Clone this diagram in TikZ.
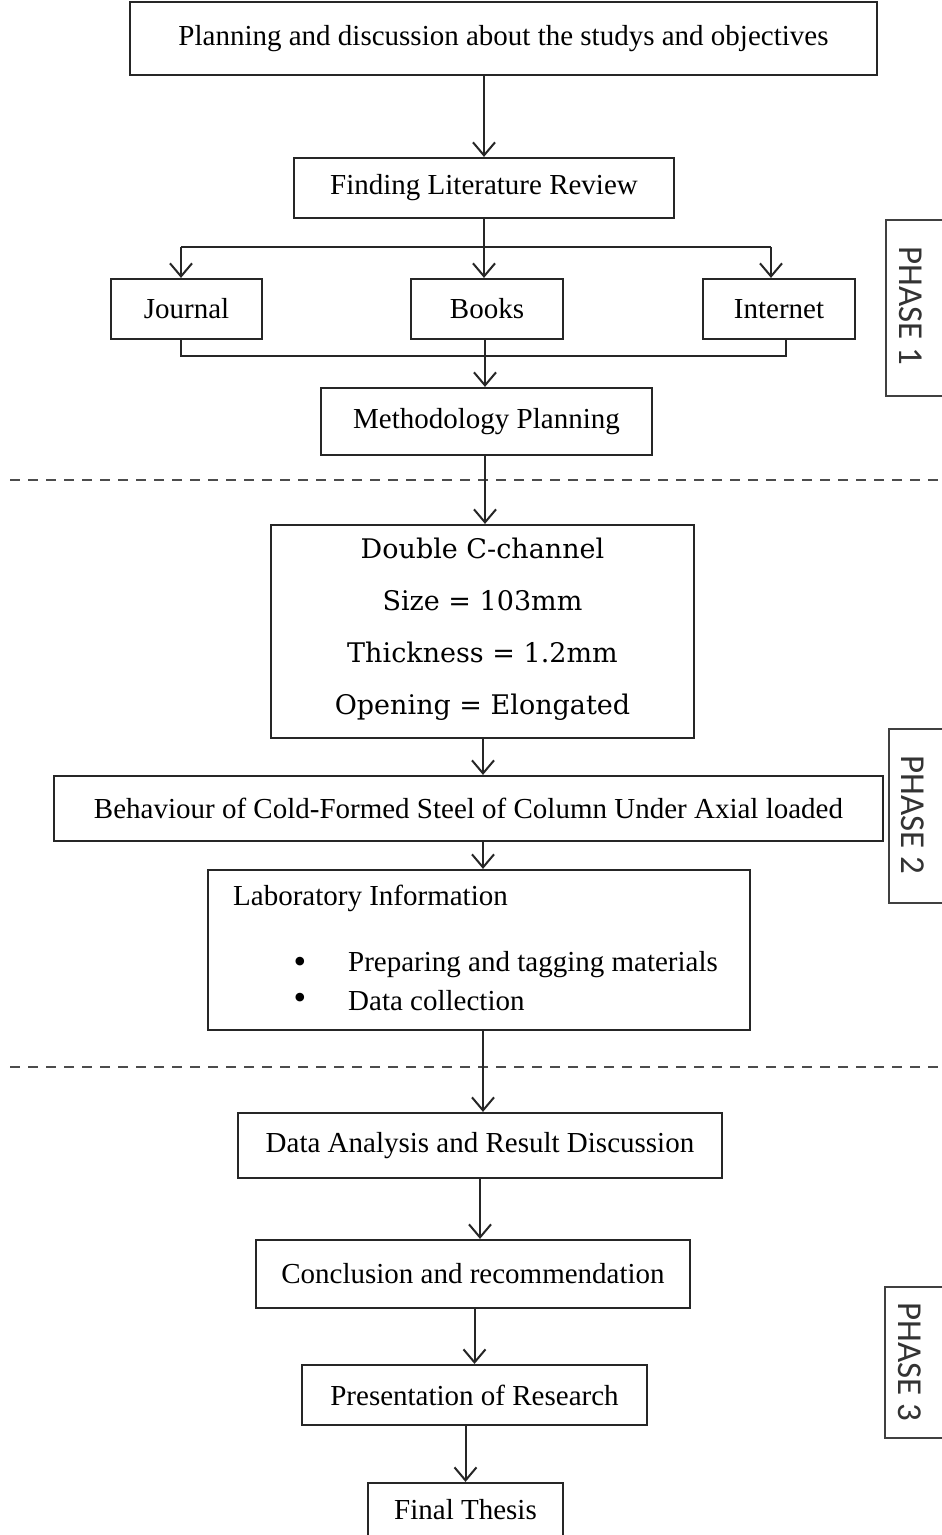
\documentclass[tikz,border=0pt]{standalone}
\usepackage{fontspec}
\setmainfont{Liberation Serif}
\newfontfamily\cfont{DejaVu Serif}
\newfontfamily\pfont{Carlito}
\usetikzlibrary{arrows.meta}
\begin{document}
\begin{tikzpicture}[x=1pt,y=-1pt,
  box/.style={draw=black!85,line width=2.2pt,inner sep=0pt,font=\fontsize{29}{34}\selectfont,text=black},
  arr/.style={draw=black!85,line width=2pt,-{Straight Barb[length=13pt,width=22pt,line width=2pt]}},
  ln/.style={draw=black!85,line width=2pt},
  dline/.style={draw=black!70,line width=2pt,dash pattern=on 10pt off 8pt},
  phasebox/.style={draw=black!75,line width=2pt,inner sep=0pt},
  phasetext/.style={font=\pfont\fontsize{35}{40}\selectfont,text=black!80,rotate=-90,inner sep=0pt},
  plain/.style={font=\fontsize{29}{34}\selectfont,text=black,inner sep=0pt}]
\useasboundingbox (0,0) rectangle (942,1535);
\clip (0,0) rectangle (942,1535);
\fill[white] (0,0) rectangle (942,1535);

% phase boxes
\node[phasebox,minimum width=100pt,minimum height=176pt] (p1) at (936,308) {};
\node[phasetext] (p1t) at (911,306) {PHASE 1};
\node[phasebox,minimum width=100pt,minimum height=174pt] (p2) at (939,816) {};
\node[phasetext] (p2t) at (913,815) {PHASE 2};
\node[phasebox,minimum width=100pt,minimum height=151pt] (p3) at (935,1362.5) {};
\node[phasetext] (p3t) at (910,1362) {PHASE 3};

% dashed separators
\coordinate (d1l) at (10,480);
\coordinate (d1r) at (942,480);
\coordinate (d2l) at (10,1067);
\coordinate (d2r) at (942,1067);
\draw[dline] (d1l) -- (d1r);
\draw[dline] (d2l) -- (d2r);

% boxes
\node[box,minimum width=747pt,minimum height=73pt] (plan) at (503.5,38.5) {Planning and discussion about the studys and objectives};
\node[box,minimum width=380pt,minimum height=60pt] (lit) at (484,188) {Finding Literature Review};
\node[box,minimum width=151pt,minimum height=60pt] (jour) at (186.5,309) {Journal};
\node[box,minimum width=152pt,minimum height=60pt] (book) at (487,309) {Books};
\node[box,minimum width=152pt,minimum height=60pt] (inet) at (779,309) {Internet};
\node[box,minimum width=331pt,minimum height=67pt] (meth) at (486.5,421.5) {Methodology Planning};
\node[box,minimum width=423pt,minimum height=213pt] (dbl) at (482.5,631.5) {};
\node[align=center,inner sep=0pt,font=\cfont\fontsize{27}{52}\selectfont,text=black] (dblt) at (482.5,629)
  {Double C-channel\\Size = 103mm\\Thickness = 1.2mm\\Opening = Elongated};
\node[box,minimum width=829pt,minimum height=65pt] (beh) at (468.5,808.5) {Behaviour of Cold-Formed Steel of Column Under Axial loaded};
\node[box,minimum width=542pt,minimum height=160pt] (lab) at (479,950) {};
\node[plain,anchor=west] (labt) at (233,898) {Laboratory Information};
\node[plain,font=\fontsize{36}{36}\selectfont,align=center] (bul) at (300,983) {\textbullet\\\textbullet};
\node[plain,anchor=west] (b1t) at (348,965) {Preparing and tagging materials};
\node[plain,anchor=west] (b2t) at (348,1001) {Data collection};
\node[box,minimum width=484pt,minimum height=65pt] (data) at (480,1145.5) {Data Analysis and Result Discussion};
\node[box,minimum width=434pt,minimum height=68pt] (conc) at (473,1274) {Conclusion and recommendation};
\node[box,minimum width=345pt,minimum height=60pt] (pres) at (474.5,1395) {Presentation of Research};
\node[box,minimum width=195pt,minimum height=54pt] (fin) at (465.5,1510) {Final Thesis};

% connectors
\coordinate (hl) at (181,247);
\coordinate (hr) at (771,247);
\coordinate (bl) at (181,356);
\coordinate (br) at (786,356);
\coordinate (c1) at (485,0);
\coordinate (c2) at (483,0);
\draw[arr] (lit.north |- plan.south) -- (lit.north);
\draw[ln] (lit.south) -- (lit.south |- hl);
\draw[ln] (hl) -- (hr);
\draw[arr] (hl) -- (hl |- jour.north);
\draw[arr] (lit.south |- hl) -- (lit.south |- book.north);
\draw[arr] (hr) -- (hr |- inet.north);
\draw[ln] (bl |- jour.south) -- (bl) -- (br) -- (br |- inet.south);
\draw[arr] (c1 |- book.south) -- (c1 |- meth.north);
\draw[arr] (c1 |- meth.south) -- (c1 |- dbl.north);
\draw[arr] (c2 |- dbl.south) -- (c2 |- beh.north);
\draw[arr] (c2 |- beh.south) -- (c2 |- lab.north);
\draw[arr] (c2 |- lab.south) -- (c2 |- data.north);
\draw[arr] (data.south) -- (data.south |- conc.north);
\draw[arr] (pres.north |- conc.south) -- (pres.north);
\draw[arr] (fin.north |- pres.south) -- (fin.north);
\end{tikzpicture}
\end{document}
